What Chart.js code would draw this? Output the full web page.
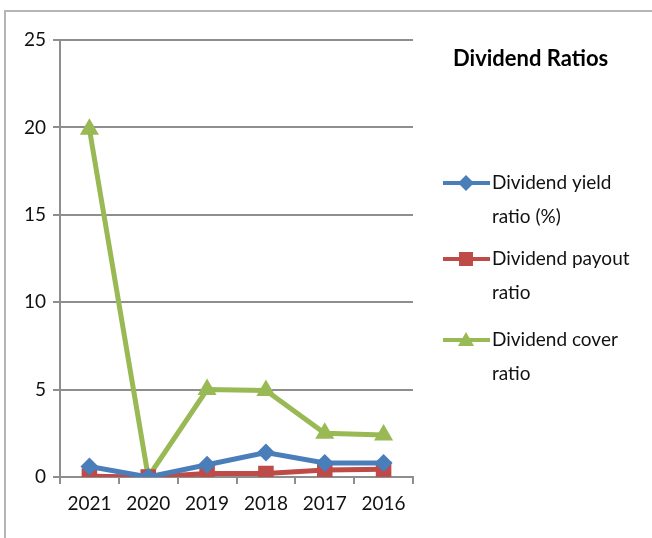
<!DOCTYPE html>
<html>
<head>
<meta charset="utf-8">
<script src="https://cdn.jsdelivr.net/npm/chart.js@4.4.1/dist/chart.umd.min.js"></script>
<style>
  html, body { margin: 0; padding: 0; background: #fff; }
  #wrap { position: relative; width: 652px; height: 538px; }
  #frame { position: absolute; left: 4px; top: 10px; right: 0; bottom: 0;
           border-top: 2px solid #b5b5b5; border-left: 2px solid #b5b5b5; }
  canvas { position: absolute; left: 0; top: 0; }
</style>
</head>
<body>
<div id="wrap">
  <div id="frame"></div>
  <canvas id="chart-dividend" width="652" height="538"></canvas>
</div>
<script>
// ---------- DATOS
const years = ['2021', '2020', '2019', '2018', '2017', '2016'];
const yieldRatio = [0.6, 0.0, 0.7, 1.4, 0.8, 0.8];
const payoutRatio = [0.05, 0.0, 0.2, 0.2, 0.4, 0.45];
const coverRatio = [19.9, 0.0, 5.0, 4.95, 2.5, 2.4];
const yTicks = [0, 5, 10, 15, 20, 25];

const legendTitle = 'Dividend Ratios';
const legendLines = [
  ['Dividend yield', 'ratio (%)'],
  ['Dividend payout', 'ratio'],
  ['Dividend cover', 'ratio']
];

const FONT = 'Lato, "Open Sans", sans-serif';

// ---------- LEYENDA DIBUJADA A MANO (titulo + textos en dos lineas)
const sideLegend = {
  id: 'sideLegend',
  afterDraw(chart) {
    const ctx = chart.ctx;
    ctx.save();
    ctx.fillStyle = '#000';
    ctx.font = 'bold 22px ' + FONT;
    ctx.textBaseline = 'middle';
    ctx.textAlign = 'left';
    ctx.fillText(legendTitle, 453, 59);

    const rowsY = [183, 259, 340];
    chart.data.datasets.forEach(function (ds, i) {
      const y = rowsY[i];
      ctx.strokeStyle = ds.borderColor;
      ctx.lineWidth = 4;
      ctx.beginPath();
      ctx.moveTo(443, y);
      ctx.lineTo(490, y);
      ctx.stroke();
      // marcador en el centro
      ctx.fillStyle = ds.backgroundColor;
      const cx = 466;
      ctx.beginPath();
      if (ds.pointStyle === 'rectRot') {
        ctx.moveTo(cx, y - 8); ctx.lineTo(cx + 8, y); ctx.lineTo(cx, y + 8); ctx.lineTo(cx - 8, y);
      } else if (ds.pointStyle === 'rect') {
        ctx.rect(cx - 7, y - 7, 14, 14);
      } else {
        ctx.moveTo(cx, y - 8); ctx.lineTo(cx + 8, y + 6); ctx.lineTo(cx - 8, y + 6);
      }
      ctx.closePath();
      ctx.fill();

      ctx.fillStyle = '#111';
      ctx.font = '19px ' + FONT;
      ctx.fillText(legendLines[i][0], 492, y);
      ctx.fillText(legendLines[i][1], 492, y + 34);
    });
    ctx.restore();
  }
};

const ctx = document.getElementById('chart-dividend').getContext('2d');
const myChartDividend = new Chart(ctx, {
  type: 'line',
  data: {
    labels: years,
    datasets: [{
      label: 'Dividend yield ratio (%)',
      data: yieldRatio,
      borderColor: '#4a7ebb',
      backgroundColor: '#4a7ebb',
      borderWidth: 5,
      pointStyle: 'rectRot',
      pointRadius: 9,
      pointBorderWidth: 0,
      tension: 0
    }, {
      label: 'Dividend payout ratio',
      data: payoutRatio,
      borderColor: '#be4b48',
      backgroundColor: '#be4b48',
      borderWidth: 5,
      pointStyle: 'rect',
      pointRadius: 11,
      pointBorderWidth: 0,
      tension: 0
    }, {
      label: 'Dividend cover ratio',
      data: coverRatio,
      borderColor: '#98b954',
      backgroundColor: '#98b954',
      borderWidth: 5,
      pointStyle: 'triangle',
      pointRadius: 11,
      pointBorderWidth: 0,
      tension: 0
    }]
  },
  options: {
    responsive: false,
    animation: false,
    layout: { padding: { left: 0, right: 239, top: 40, bottom: 0 } },
    plugins: {
      legend: { display: false },
      tooltip: { enabled: false }
    },
    scales: {
      y: {
        min: 0,
        max: 25,
        afterBuildTicks: function (scale) {
          scale.ticks = yTicks.map(function (v) { return { value: v }; });
        },
        afterFit: function (scale) { scale.width = 60; },
        border: { color: '#8e8e8e', width: 2 },
        grid: { color: '#8e8e8e', lineWidth: 2, tickLength: 7 },
        ticks: { color: '#111', font: { family: FONT, size: 19 }, padding: 7 }
      },
      x: {
        offset: true,
        afterFit: function (scale) { scale.height = 61; },
        border: { color: '#8e8e8e', width: 2 },
        grid: { offset: true, drawOnChartArea: false, color: '#8e8e8e', lineWidth: 2, tickLength: 7 },
        ticks: { color: '#111', font: { family: FONT, size: 19 }, padding: 8 }
      }
    }
  },
  plugins: [sideLegend]
});
</script>
</body>
</html>
